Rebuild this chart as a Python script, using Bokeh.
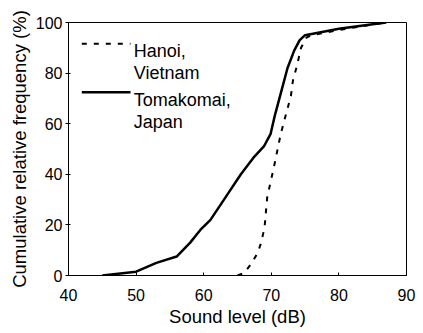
from bokeh.plotting import figure
from bokeh.models import Range1d, FixedTicker, Label, Arrow
from bokeh.embed import file_html
from bokeh.resources import INLINE

# Data
hanoi_x = [65, 66, 67, 68, 68.5, 69, 69.4, 70.4, 71.4, 72.3, 72.9, 73.2, 73.8, 74.4, 75.2, 76, 80, 85, 87]
hanoi_y = [0, 1, 4.5, 9, 13, 19, 31, 43, 56, 65, 71, 77, 83, 90, 94, 95, 97, 99.2, 100]
toma_x = [45, 50, 53, 56, 58, 59.5, 61, 63, 65.5, 67.5, 68.9, 69.9, 70.5, 71.4, 72.4, 73.4, 74.2, 75, 80, 85, 87]
toma_y = [0, 1.5, 5, 7.5, 13, 18, 22, 30, 40, 47, 51, 56, 63, 72, 82, 89, 93, 95, 97.5, 99.3, 100]
x_ticks = [40, 50, 60, 70, 80, 90]
y_ticks = [0, 20, 40, 60, 80, 100]
legend_lines = [["Hanoi,", "Vietnam"], ["Tomakomai,", "Japan"]]

FONT = "Liberation Sans"

p = figure(width=423, height=333, output_backend="svg", toolbar_location=None,
           x_range=Range1d(40, 90), y_range=Range1d(0, 100),
           min_border_left=68, min_border_right=17, min_border_top=22, min_border_bottom=58)
p.grid.visible = False
p.outline_line_color = "black"
p.outline_line_width = 1
p.background_fill_color = "white"
p.border_fill_color = "white"

p.line(hanoi_x, hanoi_y, line_color="black", line_width=2, line_dash="5 7")
p.line(toma_x, toma_y, line_color="black", line_width=2.5)

for ax in (p.xaxis[0], p.yaxis[0]):
    ax.axis_line_color = "black"
    ax.major_tick_line_color = "black"
    ax.minor_tick_line_color = None
    ax.major_label_text_font = FONT
    ax.major_label_text_font_size = "16px"
    ax.major_label_text_color = "black"
    ax.axis_label_text_font = FONT
    ax.axis_label_text_font_size = "18.5px"
    ax.axis_label_text_font_style = "normal"
    ax.axis_label_text_color = "black"

p.xaxis.ticker = FixedTicker(ticks=x_ticks)
p.yaxis.ticker = FixedTicker(ticks=y_ticks)
p.xaxis.major_tick_in = 3
p.xaxis.major_tick_out = 0
p.yaxis.major_tick_in = 2
p.yaxis.major_tick_out = 3
p.xaxis.axis_label = "Sound level (dB)"
p.yaxis.axis_label = "Cumulative relative frequency (%)"
p.xaxis.major_label_standoff = 13
p.yaxis.major_label_standoff = 3
p.xaxis.axis_label_standoff = 2
p.yaxis.axis_label_standoff = 3

# Legend drawn by hand (screen units are relative to the plot frame)
sample_y = [231.7, 183.3]
text_base = [[225, 202.3], [175.7, 153.3]]
dashes = ["5 7", None]
widths = [2, 2.5]
for i in range(2):
    arr = Arrow(end=None, x_start=13.3, x_end=62, y_start=sample_y[i], y_end=sample_y[i],
                start_units="screen", end_units="screen",
                line_color="black", line_width=widths[i])
    if dashes[i]:
        arr.line_dash = dashes[i]
    p.add_layout(arr)
    for j in range(2):
        p.add_layout(Label(x=65.3, y=text_base[i][j], x_units="screen", y_units="screen",
                           text=legend_lines[i][j], text_font=FONT, text_font_size="18px",
                           text_color="black", text_baseline="alphabetic", text_align="left"))

open("out.html", "w").write(file_html(p, INLINE))
